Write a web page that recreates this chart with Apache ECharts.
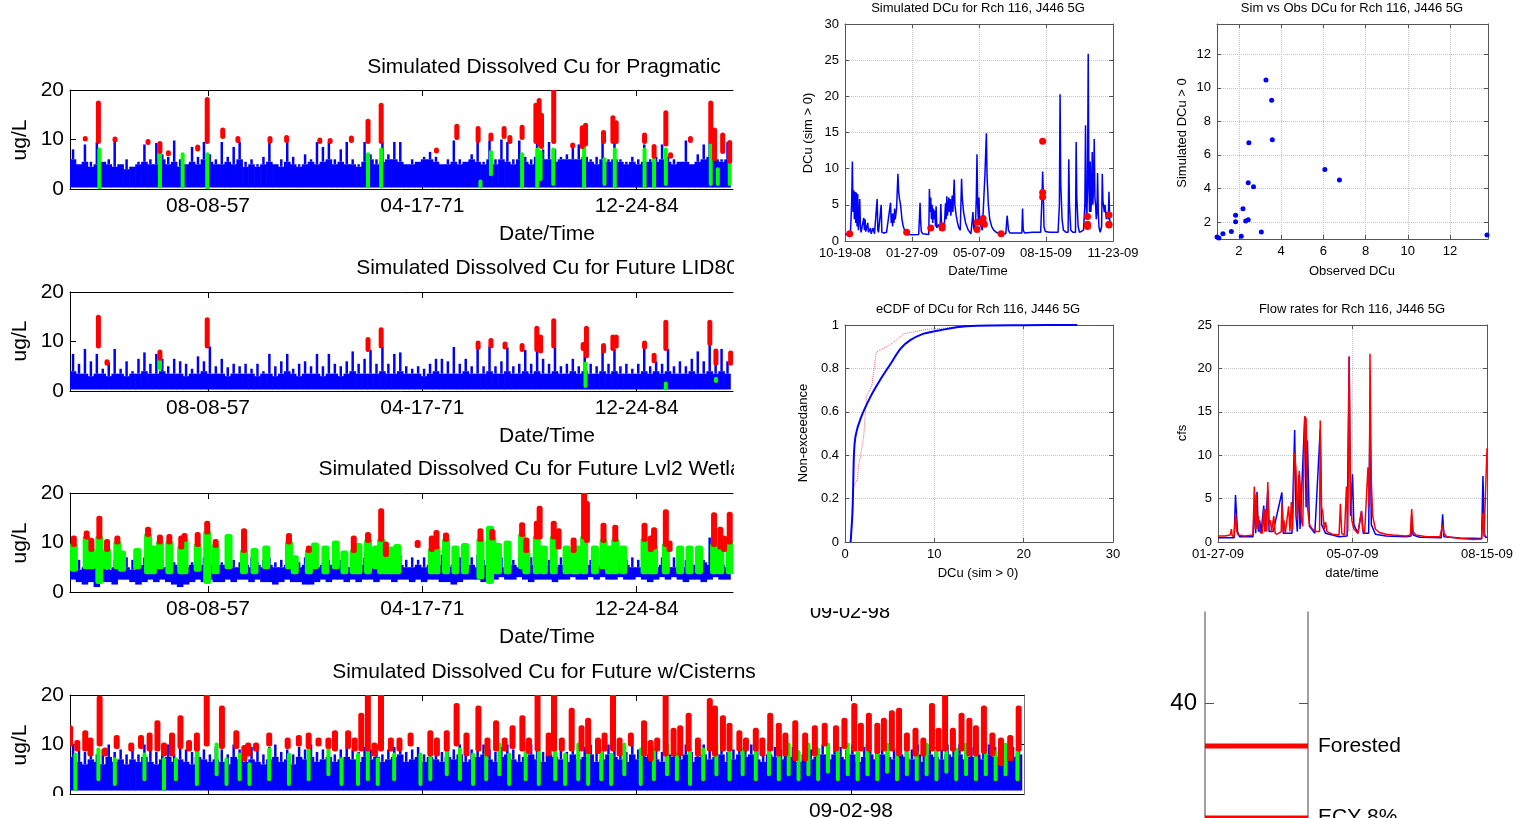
<!DOCTYPE html>
<html>
<head>
<meta charset="utf-8">
<script src="https://cdn.jsdelivr.net/npm/echarts@6/dist/echarts.min.js"></script>
<style>
html, body {margin: 0; padding: 0; background: #fff;}
#chart {width: 1523px; height: 818px;}
</style>
</head>
<body>
<div id="chart"></div>
<script>
// ---- long term runs (x in decimal years) ----
var tsStart = 1948.786, tsEndShort = 1991.13, tsEndLong = 2009.72;
var tsTicks = [1957.600, 1971.290, 1984.978, 1998.668];
var tsTickLabels = ['08-08-57', '04-17-71', '12-24-84', '09-02-98'];
var bandStart = 1948.98, bandStep = 0.38;

var pragBase = [6,5,5.5,4.5,5,5.5,5,4.5,5,4, 4.5,5,5.5,5,5,6,5,5.5,4.5,5, 5.5,5,6,5.5,5,5,5.5,5,6,4.5,
  5,4.5,5,5.5,5,4.5,5.5,5,4.5,5, 5.5,5,5.5,6,5,5.5,5,5,4.5,5.5, 6,5,5.5,6,6,5.5,5,5,5.5,6,
  6,5.5,5,5,5.5,5,5.5,6,5.5,5, 6,5,6,5.5,5,6,5.5,5,6.5,6, 6,5.5,6,6,6,6,6.5,5.5,5,6,
  5.5,6,5.5,5,5.5,5,5.5,5.5,5.5,6, 5.5,5,5.5,5.5,5,5.5,6,6.5,6,5.5, 6];
var pragPeak = [8,5,9,5.5,9.5,5,6,9.8,4.5,6, 4,5.5,9,6,9.3,7,6.5,9.8,6,5, 8.5,6.5,9.5,7,6,9.5,6.5,8.5,9.5,5.5,
  6,5,6.5,9.5,5,6,9.5,6.5,5,7, 6,9.5,8.5,9.5,6,8,9.5,6,5,9.5, 7,6,9.5,7,9.5,9.5,5,6,5.5,6.5,
  7.5,6.5,5,6,9.8,6,5.5,7,9.5,5.5, 9.8,6,10,9.5,6,9.8,6.5,6,9.5,8, 9.5,8,6.5,7,8.8,9,9.5,6,6.5,9.5,
  6,9.5,6,5.5,6.5,6,9,6,6.5,9, 6.5,6,5.5,9.8,5,7,9,9.5,8,6, 9.5];
var pragRed = [[1949.76,10,10.3],[1950.60,9.5,17.5],[1951.66,9.8,10.2],[1953.77,9.3,9.7],[1954.53,7.5,9.3],
  [1955.07,7,7.4],[1956.94,8,8.6],[1957.55,9.5,18.2],[1958.54,10.5,12],[1959.51,9.7,10.3],[1961.56,9.6,10.3],
  [1962.62,9.7,10.5],[1964.74,9.5,10],[1965.40,9.5,9.9],[1966.76,9.7,10.4],[1967.82,9.5,13.8],[1968.66,9.5,17],
  [1972.19,7.6,8],[1973.49,10.3,12.8],[1974.85,9.7,12.3],[1975.67,10,11],[1976.51,10.5,12.3],[1976.88,9.5,10.5],
  [1977.66,10.3,12.6],[1978.54,9.5,17],[1978.75,9,18],[1978.90,8.5,15],[1979.68,9.5,20],[1980.89,8.6,9],
  [1981.50,8.5,12.5],[1981.71,9,13],[1982.86,9.5,11.5],[1983.46,9.5,14.5],[1983.67,9.5,13.5],[1985.48,9.5,11],
  [1986.09,6.5,8.7],[1986.84,9,15.5],[1987.14,6.5,7],[1988.41,9.7,10.3],[1989.71,9.5,17.5],[1989.95,6,12],
  [1990.47,7.5,11],[1990.92,5.5,9.5]];
var pragGreen = [[1950.66,0.3,8],[1954.53,0.5,7],[1955.98,0.5,7],[1957.55,0.3,7],[1967.82,0.5,7],[1968.66,0.5,8],
  [1975.00,0.5,1.5],[1975.67,3,7.5],[1977.66,0.5,7],[1978.63,0.5,8],[1978.84,2,7.5],[1979.65,1,8],[1981.62,0.5,9],
  [1982.92,1,6],[1983.58,0.5,8],[1985.48,0.5,8],[1986.09,0.5,6],[1986.84,1,8],[1989.71,1,9],[1990.16,1,4],[1990.92,1,6]];

var lidBase = [4,3.5,3.5,3,3.5,3.5,3,3.5,3.5,3, 3.5,3.5,4,3.5,3.5,4,3.5,3.5,3.5,3, 3.5,3.5,4,3.5,3.5,3.5,3,3.5,3.5,3.5,
  3.5,3,3.5,3.5,3,3.5,4,3.5,3,3.5, 3.5,3.5,3,3.5,3.5,3,3.5,4,3.5,3.5, 3.5,3.5,4,3.5,3.5,4,3.5,3.5,3.5,3,
  3.5,4,3.5,3.5,3.5,3.5,4,3.5,3.5,3.5, 4,3.5,3.5,4,3.5,3.5,4,3.5,4,3.5, 3.5,4,3.5,3.5,4,3.5,4,3.5,3.5,4,
  3.5,4,3.5,3.5,3.5,3.5,4,3.5,4,3.5, 4,3.5,3.5,3.5,4,3.5,3.5,4,3.5,4, 3.5];
var lidPeak = [7.5,5.5,8.5,6,7.5,4.5,5.8,8.5,4.5,6, 4,6.5,7.8,5.5,7.5,6.5,5,6.5,6,5.5, 4.5,7,6,9,5,6.5,4.8,5.5,5,5.5,
  4.5,5.5,4,7.5,5,6,7.5,4.5,5.5,6, 5,7.5,5,7.5,5.5,5,6,8,5.5,6.5, 8.3,5.5,9,5.5,7.5,7.8,5,4.5,5,4.5,
  5.5,6.5,6.5,6,8.9,5.5,6.5,5,8.7,5, 9,5,6,8.8,5,5.5,8.3,5.5,8.3,6.5, 5.5,9,5,5.5,6.5,5,9,5.5,5,8,
  5.5,8.5,5,5.5,4.5,5.5,8.8,5,6,5.5, 8.5,5,6,5,6.5,8,6,9.5,5.5,8.5, 6];
var lidRed = [[1950.60,9,15],[1951.15,5.5,6],[1954.53,6.5,8],[1957.55,9,14.5],[1967.82,8.3,10.5],[1968.66,9,12.5],
  [1974.85,8.7,9.8],[1975.67,9,10.3],[1976.57,8.8,9.6],[1977.66,8.3,9.3],[1978.60,8.3,12.8],[1978.84,8,11],
  [1979.68,9,14.3],[1981.56,8.5,9.5],[1981.77,7,12.8],[1982.86,8,9.3],[1983.46,8.5,11],[1983.67,9,11],
  [1985.48,8.8,9.8],[1986.09,6,7.3],[1986.84,8.5,14],[1989.65,9.5,14],[1990.04,5.5,8.2],[1990.98,5.5,7.8]];
var lidGreen = [[1954.53,4.5,6.5],[1981.71,1,5.5],[1986.84,0.5,1.5],[1990.04,2,2.5]];

var wetlLow = [2.5,2,1.5,2,1,2,2,1.5,2.5,2.5, 2,1.5,2,2.5,2,2.5,2,1.5,1,1.5, 2,2.5,2,2.5,2,2,2.5,2,2.5,2.5,
  2,2.5,2,2,1.5,2,2.5,2,2,1.5, 1.5,2,2.5,2,2.5,2.5,2,2.5,2,2.5, 2.5,2,2.5,2.5,2,2.5,2.5,2,2.5,2,
  2.5,2.5,2,2,1.5,2,2.5,2.5,2.5,2, 2.5,2.5,3,2.5,2.5,3,2.5,2,2.5,2.5, 2.5,2,2.5,2.5,3,2.5,2.5,3,2.5,3,
  2.5,2.5,3,2.5,2.5,3,2.5,2,2.5,3, 2.5,3,2.5,2,2.5,2.5,2,2.5,3,2.5, 2.5];
var wetlBase = [5,4.5,5,5.5,5,5,4.5,5,5,5, 4.5,5,5.5,5,5.5,5,5,5.5,5,5, 5.5,5,5.5,5.5,5,5.5,5.5,5,5,5.5,
  5,5.5,5,5.5,5,5,5.5,5,5,5.5, 5,5,5.5,5.5,5,5.5,5,5,5.5,5.5, 5,5,5.5,5,5.5,5.5,5,5,5.5,5,
  5.5,6,5.5,5,5.5,5.5,5,5.5,5,5.5, 5,5.5,5,5.5,5.5,5,5,5.5,5,5.5, 5.5,5,5.5,5,5.5,5.5,5,5.5,5,5.5,
  5,5,5.5,5.5,5,5,5.5,5,5,5.5, 5,5,5.5,5,5.5,5,6,5.5,5,5.5, 5];
var wetlPeak = [7,6.5,7,6,6.5,7,6,6.5,6,7, 6.5,6,7,6.5,6,6.5,7,6,6.5,7, 6,6.5,7,8.5,6.5,6,7,6.5,6,6.5,
  7,6,6.5,7,6,6.5,7,6.5,6,7, 6.5,7,6,6.5,7,6.5,6,7,6.5,7, 7.5,6.5,7,6.5,7,7.5,6.5,7,6.5,7,
  7,6.5,7.5,7,6.5,7,6.5,7,7.5,6.5, 7,6.5,7,7.5,6.5,7,6.5,7,6.5,7, 6.5,7,7,6.5,7,6.5,7,6.5,7,6.5,
  7,6.5,7,6.5,7,6.5,7,6.5,7,7, 6.5,7,7,6.5,7,7,6.5,11,6.5,7, 6.5];
var wetlRed = [[1949.03,9.5,11],[1949.85,11,12],[1950.15,8.5,10.5],[1950.66,11,15],[1951.15,8.5,10.3],[1951.81,10,11],
  [1953.77,11.5,12.8],[1954.53,10,11.2],[1955.13,10,11.3],[1955.89,9,11],[1956.10,10.5,11.5],[1956.94,9.5,11.7],
  [1957.55,12,14],[1958.09,9.3,10.3],[1959.90,8.3,12.5],[1962.77,10,11.5],[1964.04,8.3,9],[1966.91,8.3,11],
  [1967.82,10.3,11.7],[1968.66,10.5,16.5],[1968.96,7.5,9.8],[1970.99,9.3,10.1],[1971.89,8.5,11],[1972.19,9,12.1],
  [1972.80,10.5,11.6],[1975.00,10.5,12.5],[1975.76,10.8,12.3],[1977.66,11.5,13.7],[1977.93,8.3,10.6],[1978.60,11,14],
  [1978.78,11,17],[1979.68,11,14],[1979.99,9,12.5],[1980.95,8.3,10.6],[1981.62,11,20],[1981.80,10.3,18],
  [1982.86,10.3,13.6],[1983.61,10.5,13.2],[1985.48,10.5,13.6],[1985.88,8.5,11],[1986.09,9,12.7],[1986.84,9.5,16.3],
  [1987.08,8.5,10],[1989.92,9.5,15.7],[1990.32,9,12.8],[1990.56,8.5,11],[1990.92,10,15.8]];
var wetlGreen = [[1949.03,4.5,9.5],[1949.85,5,11],[1950.15,5,8.5],[1950.66,2,11],[1951.15,5,8.5],[1951.81,5,10],
  [1952.11,4.5,8],[1953.08,5,8.5],[1953.77,4,11.5],[1954.08,4,9],[1954.53,5,10],[1955.13,4,10],[1955.89,4,9],
  [1956.10,4,10.5],[1956.94,4.5,9.5],[1957.55,2,12],[1958.09,4,9.3],[1958.91,5,11.3],[1959.90,4,8.3],[1960.57,4,8.5],
  [1961.32,5,9],[1962.77,5,10],[1963.14,4,7],[1964.04,4,8.3],[1964.43,5,9.6],[1965.10,4,9],[1965.76,5,10],
  [1966.31,4,8],[1966.91,4,8.3],[1967.21,4,9.5],[1967.82,4,10.3],[1968.33,5,9],[1968.66,4,10.5],[1968.96,4,7.5],
  [1969.33,4,8.8],[1969.69,4,9.3],[1971.89,4,8.5],[1972.19,4,9],[1972.80,4,10.5],[1973.40,4,9],[1974.01,4,9.5],
  [1975.00,3,10.5],[1975.61,2,13],[1975.76,4,10.8],[1976.12,4,9.5],[1976.73,4,10],[1977.66,5,11.5],[1977.93,4,8.3],
  [1978.60,4,11],[1979.05,4,9],[1979.68,4,11],[1980.50,4,9],[1980.95,4,8.3],[1981.16,4,9],[1981.62,4,11],
  [1982.31,4,9],[1982.86,5,10.3],[1983.22,4,9],[1983.61,4,10.5],[1984.12,4,9],[1985.48,4,10.5],[1985.88,4,8.5],
  [1986.09,4,9],[1986.84,4,9.5],[1987.75,4,9],[1988.35,4,9],[1988.96,4,9],[1989.92,4,9.5],[1990.32,4,9],[1990.92,4,10]];

var cistBase = [7.5,6.5,6,7,6.5,6,7.5,6.5,7,6, 7,6.5,7.5,6.5,6,7,7.5,6.5,7,6.5, 6,7.5,7,6.5,7,6.5,6,7.5,7,6.5,
  7,6.5,6,7,7.5,6.5,7,6,7.5,7, 7.5,6.5,7,7.5,6.5,7,7.5,7,6.5,7.5, 7,7.5,6.5,7,7.5,8,6.5,7,7.5,6.5,
  7.5,7,6.5,7.5,7,8,6.5,7,7.5,8, 7,6.5,7.5,8,7,6.5,7.5,8,7,6.5, 8,7.5,7,6.5,8,7,7.5,8,6.5,7,
  8,7.5,7,6.5,8,7,7.5,8,7,6.5, 8,7.5,7,8,6.5,7.5,8,7,7.5,8, 6.5,7,8,7.5,8,7,6.5,8,7.5,7,
  8,7.5,6.5,8,7,7.5,8,7,8,7.5, 7,8,6.5,7.5,8,7,8,7.5,7,8, 7.5,7,8,6.5,8,7.5,7,8,7.5,8,
  7,7.5,8,7,8,7.5,7,8,7.5,8];
var cistPeak = [10,9,8.5,9.5,8,9,10,8.5,9,8, 9.5,8,10,9,8.5,9,10,8,9.5,9, 8.5,10,9,8,9.5,9,8,10,9,8.5,
  9.5,9,8,9.5,10,8.5,9,8,9.5,9, 10,8.5,9,9.5,8,9,10,9,8.5,9.5, 9,10,8,9,9.5,10,8.5,9,9.5,8,
  10,9,8.5,9.5,9,10,8.5,9,9.5,10, 9,8.5,9.5,10,9,8,9.5,10,9,8.5, 10,9.5,9,8.5,10,9,9.5,10,8.5,9,
  10,9.5,9,8.5,10,9,9.5,10,9,8.5, 10,9.5,9,10,8.5,9.5,10,9,9.5,10, 8.5,9,10,9.5,10,9,8.5,10,9.5,9,
  10,9.5,8.5,10,9,9.5,10,9,10,9.5, 9,10,8.5,9.5,10,9,10,9.5,9,10, 9.5,9,10,8.5,10,9.5,9,10,9.5,10,
  9,9.5,10,9,10,9.5,9,10,9.5,10];
var cistRed = [[1948.79,10,13.5],[1949.25,9,10.5],[1949.76,9,12.5],[1950.09,8,11],[1950.68,10,19.5],[1951.02,8,9],
  [1951.77,9.5,11.5],[1952.70,9,10],[1953.32,9.5,11.5],[1953.87,9,12],[1954.37,9,14.5],[1954.79,8,10],[1955.30,8,12],
  [1955.84,9.5,15.5],[1956.39,9,10.5],[1956.89,9,12],[1957.52,10,20],[1958.49,9.5,17.5],[1959.41,9.5,12.5],
  [1959.92,7,9.5],[1960.17,8,10],[1960.67,9,10],[1961.51,10,12],[1962.69,9.5,11],[1963.40,10,11.5],[1964.03,9.5,12],
  [1964.66,10,11],[1965.29,9.5,11],[1965.71,9,12.5],[1966.55,9.5,12.5],[1966.97,9,11],[1967.39,9,16],[1967.81,9,20],
  [1968.23,8,10],[1968.65,9,20],[1969.28,9,11],[1969.83,9,11],[1970.54,10,12],[1971.80,8,12.5],[1972.22,8,11],
  [1972.85,9,12.5],[1973.48,10,18],[1974.11,8,12],[1974.87,9,17.5],[1975.45,8,11],[1976.00,9,14.5],[1976.55,9,11],
  [1977.05,9.5,13.5],[1977.68,9,15.5],[1978.10,8.5,11],[1978.65,9,20],[1979.36,8,12],[1979.70,9,20],[1980.20,9,11],
  [1980.83,9,17],[1981.46,9,13.5],[1981.88,8.5,15],[1982.51,8.5,11],[1982.93,9,12],[1983.47,9,20],[1983.89,8,11],
  [1984.61,10,12],[1985.45,8,14.5],[1985.87,7,10.5],[1986.29,9,11],[1986.83,8,20],[1987.34,8,13],[1987.76,8,13.5],
  [1988.30,9,16],[1988.89,8,11],[1989.65,9,19],[1989.98,8,17.5],[1990.49,9,15.5],[1990.91,9,14],[1991.54,9,12.5],
  [1991.96,9,11],[1992.59,9,13],[1993.01,8,11],[1993.51,9,16],[1994.06,8,14],[1994.48,8,12],[1995.11,7,14.5],
  [1995.74,7,12],[1996.36,8,13.5],[1996.99,10,14],[1997.71,9,13.5],[1998.25,9.5,15],[1998.88,9,18],[1999.30,9,14],
  [1999.81,9,16],[2000.35,8.5,14],[2000.77,9,15],[2001.28,9,16.5],[2001.74,8,17],[2002.24,9,12],[2002.79,8,13],
  [2003.29,8,11],[2003.84,9,18],[2004.26,9,13],[2004.68,9,20],[2005.18,9,13],[2005.73,9,16],[2006.23,8,15],
  [2006.65,8,13.5],[2007.16,8.5,17.5],[2007.70,8,12],[2008.25,6,11],[2008.84,7,11.5],[2009.38,9,17.5]];
var cistGreen = [[1949.13,1,8],[1950.60,3,9],[1951.65,2,7],[1953.54,3,8],[1954.79,1,7],[1955.55,3,7],[1956.89,2,9],
  [1958.15,4,10],[1958.78,2,7],[1959.62,3,8],[1960.25,2,6],[1961.51,3,9],[1962.77,2,8],[1964.03,3,9],[1965.29,4,9],
  [1966.13,2,7],[1967.18,2,8],[1967.81,3,9],[1968.44,2,7],[1969.49,3,8],[1971.17,2,8],[1971.80,3,10],[1972.85,4,9],
  [1973.69,3,9],[1974.53,2,8],[1975.37,3,9],[1976.21,4,10],[1976.84,2,8],[1977.89,3,10],[1978.73,2,9],[1979.78,3,9],
  [1980.41,2,8],[1981.25,3,10],[1981.88,2,9],[1982.72,3,9],[1983.35,2,8],[1984.19,4,10],[1985.24,2,9],[1986.08,3,9],
  [1986.92,4,10],[1987.55,3,8],[1988.39,2,9],[1989.23,3,9],[1990.07,4,10],[1990.91,3,9],[1991.75,4,9],[1992.59,3,9],
  [1993.43,4,10],[1994.06,3,9],[1994.69,4,10],[1995.32,3,8.5],[1995.95,4,10],[1996.57,3,9],[1997.20,4.5,10],
  [1997.83,3,9],[1998.46,4,10],[1999.09,3,8.5],[1999.72,4,10],[2000.35,3,9],[2000.98,4.5,10],[2001.61,3,9],
  [2002.24,4,10],[2002.87,3,8.5],[2003.50,4,10],[2004.13,3,9],[2004.76,4.5,10],[2005.39,3,9],[2006.02,4,10],
  [2006.65,3,9],[2007.28,4,10],[2007.91,3,8.5],[2008.54,4,10],[2009.30,3,9]];

// ---- Rch 116 calibration (x in days from the first tick) ----
var dcuTickLabels = ['10-19-08', '01-27-09', '05-07-09', '08-15-09', '11-23-09'];
var dcuSim = [[0,0.9],[5,0.9],[8,1.0],[9,3],[10,5.5],[11,11],[12,4],[13,7],[14,3],[15,6.8],[16,2.5],[17,6.7],[18,2],
  [19,6.5],[20,1.5],[21,3.5],[22,5.8],[23,2],[24,1.2],[26,1.0],[28,3.2],[29,1.5],[30,3],[31,1.3],[34,2.5],[35,1.2],
  [38,1.8],[39,1.0],[42,1.8],[44,1.0],[48,5.8],[49,1.5],[50,1.2],[52,1.2],[54,5],[55,1.2],[58,1.1],[62,1.2],[68,5.3],
  [69,2.5],[70,3.8],[71,2],[72,3.8],[73,2.5],[74,4.5],[75,3],[77,4.5],[79,9.3],[80,7],[81,6],[83,5],[85,3],[87,2],
  [90,1.2],[93,0.9],[100,0.85],[110,0.9],[112,5.3],[113,2.5],[114,1.3],[116,1.0],[125,0.9],[126,7.2],[127,4],[128,6],
  [129,3],[130,5],[131,2.5],[132,4.5],[133,3],[134,4.2],[135,2],[136,4.8],[137,1.8],[140,2.3],[142,1.5],[143,5.1],
  [144,2.5],[146,1.8],[148,1.5],[150,5.2],[151,3],[152,6.2],[153,3.5],[155,6],[156,4],[157,5.8],[158,3.5],[160,6.3],
  [161,4],[163,8.5],[164,5],[166,3.5],[168,2.5],[170,1.8],[172,1.5],[174,8.6],[175,6],[177,4],[180,2.5],[184,1.5],
  [188,1],[190,1.0],[191,4],[192,2],[193,1.5],[195,3],[196,6],[197,12],[198,5],[199,3],[200,6],[201,2.5],[203,2],
  [205,1.5],[207,1.5],[209,9.5],[211,14.9],[212,9],[214,5],[216,3],[219,2],[222,1.5],[226,1.2],[230,1.0],[240,1.0],
  [242,3.5],[244,1.5],[246,1.1],[255,1.1],[264,1.1],[265,4.5],[266,1.5],[268,1.1],[280,1.2],[292,1.2],[294,6],
  [295,9.6],[296,6.5],[297,2],[299,1.3],[305,1.2],[318,1.2],[320,5],[321,20.3],[322,8],[324,3],[326,1.5],[330,1.2],
  [333,1.2],[334,11.3],[335,5],[337,1.5],[340,1.2],[344,1.2],[345,13.7],[346,6],[348,2],[350,1.2],[356,1.5],[358,5],
  [359,16],[360,5],[361,3],[362,8],[363,25.9],[364,8],[365,4],[366,11],[367,4],[368,6],[369,12.3],[370,5],[371,8],
  [372,14.1],[373,6],[374,5],[375,3],[376,4],[377,9.4],[378,4],[379,2],[380,1.5],[381,1.2],[383,2],[384,9.3],
  [385,5.5],[386,5.5],[387,4],[388,5],[389,5],[390,3],[391,4],[392,3.5],[393,3],[394,6.8],[395,3],[396,2.5]];
var dcuObs = [[7,1.0],[92,1.2],[128,1.8],[145,1.8],[145,2.1],[197,1.6],[197,2.6],[206,2.6],[206,3.1],[208,2.3],
  [233,1.0],[295,13.8],[295,6.7],[295,6.1],[362,3.4],[362,2.3],[362,2.0],[394,3.6],[394,2.3],[394,2.2]];

var pairTicks = [2, 4, 6, 8, 10, 12];
var simVsObs = [[0.96,1.11],[1.05,1.05],[1.24,1.31],[1.64,1.43],[1.84,2.41],[1.84,2.02],[2.11,1.15],[2.19,2.79],
  [2.32,2.06],[2.44,2.14],[2.44,4.34],[2.47,6.72],[2.69,4.11],[3.06,1.41],[3.28,10.46],[3.55,9.26],[3.58,6.90],
  [6.07,5.13],[6.76,4.50],[13.75,1.23]];

var cdfSim = [[0.63,0],[0.85,0.15],[1.0,0.4],[1.19,0.49],[1.75,0.57],[2.86,0.67],[3.98,0.75],[5.09,0.82],[6.2,0.89],
  [7.3,0.93],[8.8,0.96],[9.9,0.97],[12.5,0.99],[14.8,0.997],[20,0.999],[26,1]];
var cdfObs = [[0.63,0],[0.85,0.2],[0.9,0.25],[1.4,0.29],[1.5,0.35],[1.75,0.40],[2.1,0.49],[2.4,0.67],[3.0,0.72],
  [3.5,0.875],[5.1,0.91],[6.6,0.96],[9.2,0.98],[12.5,0.99],[13.3,1]];

var flowTickLabels = ['01-27-09', '05-07-09', '08-15-09'];
var flowSim = [[0,0.5],[12,0.5],[13,5.4],[14,5.3],[14.5,1.2],[16,0.6],[26,0.6],[27,4],[28,1],[29,5.8],[30,1.2],[31,2.5],
  [32,1],[34,4.2],[35,1.2],[37,5.9],[38,1.2],[41,1.2],[47.5,5.7],[48.5,1],[52,1],[55,1],[57,12.9],[58,3],[59,1.2],
  [60,7.7],[61,1.5],[64.5,14.4],[65.5,4],[66.5,11.7],[68,1.8],[72,1],[76,13],[77,2],[80,1],[90,0.6],[96,0.7],
  [97.5,21.3],[98.5,3],[100,7.8],[101,2],[104,1],[106.7,3.5],[108,1],[112,1],[113,14.7],[114,2],[117,0.9],[125,0.7],
  [140,0.6],[143.5,0.7],[144,3],[145,0.8],[150,0.55],[166,0.5],[167,3.2],[168,0.6],[180,0.45],[196,0.4],[197,7.6],
  [198,1],[199,0.5],[200,0.6]];
var flowObs = [[0,0.7],[5,0.7],[9,0.8],[10,1.5],[10.5,0.7],[12,0.7],[13,3.3],[14,1.2],[15,0.8],[20,0.7],[26,0.8],
  [27,6.4],[27.8,1.5],[28.5,5.5],[29,1.5],[30,3],[31,1.2],[33,1],[34,3.8],[34.8,1.2],[35.5,3.8],[36.3,1.2],[37,6.9],
  [38,2],[39,2.5],[39.8,1.2],[41.5,3],[42.5,1],[44,0.9],[47,1.2],[47.5,4.5],[48.5,1.2],[49,2.5],[50,1],[52.5,4.1],
  [53.5,1.2],[54.5,4.6],[55.5,1.5],[57,10.3],[58,8.3],[59,2.5],[60.4,8.2],[61,6.8],[62,2.5],[63,1.8],[64.5,14.5],
  [65.5,14.2],[66.5,4],[68,2],[70,1.5],[73,1.2],[75.5,1.2],[76,14],[77,4],[78,3.3],[79,1.5],[80,2.3],[81,1.2],[85,0.9],
  [90,0.8],[91,4.4],[92,1],[94,0.8],[95.5,6.4],[96.5,1.2],[97.5,21.4],[98.5,6],[99.5,2.5],[101,1.5],[104,1],
  [106.7,3.6],[107.5,1.5],[109,1],[111.5,8.6],[112.5,4],[113,21.7],[114,7],[115,3],[117,1.5],[120,1.1],[125,0.9],
  [130,0.8],[140,0.7],[143,0.8],[144,3.8],[145,1.2],[147,0.8],[155,0.6],[165,0.6],[167,2],[168,1],[170,0.6],[180,0.4],
  [190,0.3],[196,0.35],[197,3.3],[197.8,0.6],[199,0.5],[200,10.8]];

// ---- criteria levels ----
var levelTicks = [40];
var levelNames = ['Forested', 'ECY 8%'];
var levelValues = [37.17, 32.5];

var BLUE = '#0000ff', RED = '#ff0000', GREEN = '#00ff00';
var FONT = '"Liberation Sans", Arial, Helvetica, sans-serif';

var grids = [], xAxes = [], yAxes = [], series = [], graphics = [];

function txt(str, x, y, size, rot, z) {
    graphics.push({type: 'text', x: x, y: y, rotation: rot || 0, z: z || 50,
        style: {text: str, font: size + 'px ' + FONT, fill: '#000', textAlign: 'center', textVerticalAlign: 'middle',
            align: 'center', verticalAlign: 'middle'}});
}
function cover(x, y, w, h) {
    graphics.push({type: 'rect', z: 100, shape: {x: x, y: y, width: w, height: h}, style: {fill: '#fff'}});
}
function tsLabel(v) {
    for (var i = 0; i < tsTicks.length; i++) {
        if (Math.abs(v - tsTicks[i]) < 0.01) return tsTickLabels[i];
    }
    return '';
}
function makeBand(base, peak, floor) {
    return base.map(function (b, i) {
        var lo = Array.isArray(floor) ? floor[i] : floor;
        return [bandStart + i * bandStep, lo, b, peak[i]];
    });
}
function renderBand(params, api) {
    var x = api.value(0);
    var pLo = api.coord([x, api.value(1)]);
    var pMid = api.coord([x, api.value(2)]);
    var pHi = api.coord([x, api.value(3)]);
    var w = api.size([bandStep, 0])[0] + 0.6;
    return {type: 'group', children: [
        {type: 'rect', shape: {x: pLo[0] - w / 2, y: pMid[1], width: w, height: Math.max(0, pLo[1] - pMid[1])}, style: {fill: BLUE}},
        {type: 'rect', shape: {x: pHi[0] - 1.25, y: pHi[1], width: 2.5, height: Math.max(0, pMid[1] - pHi[1])}, style: {fill: BLUE}}
    ]};
}
function renderEvent(color, w) {
    return function (params, api) {
        var x = api.value(0);
        var pLo = api.coord([x, api.value(1)]);
        var pHi = api.coord([x, api.value(2)]);
        return {type: 'rect', shape: {x: pLo[0] - w / 2, y: pHi[1] - 2, width: w, height: pLo[1] - pHi[1] + 4, r: Math.min(w / 2, 2.5)},
            style: {fill: color}};
    };
}

function tsPanel(top, width, xMax, band, red, green, redW, greenW, labelVals, rightEdge) {
    var g = grids.length;
    grids.push({left: 70, top: top, width: width, height: 99, containLabel: false, outerBoundsMode: 'none'});
    var black = {color: '#000', width: 1};
    var xi = xAxes.length;
    xAxes.push({gridIndex: g, type: 'value', position: 'bottom', min: tsStart, max: xMax,
        axisLine: {show: true, onZero: false, lineStyle: black},
        axisTick: {show: true, inside: true, length: 6, customValues: tsTicks, lineStyle: black},
        axisLabel: {show: true, customValues: labelVals, formatter: tsLabel, fontSize: 21, fontFamily: FONT, color: '#000', margin: 7},
        splitLine: {show: false}});
    xAxes.push({gridIndex: g, type: 'value', position: 'top', min: tsStart, max: xMax,
        axisLine: {show: true, onZero: false, lineStyle: black},
        axisTick: {show: true, inside: true, length: 6, customValues: tsTicks, lineStyle: black},
        axisLabel: {show: false}, splitLine: {show: false}});
    var yi = yAxes.length;
    yAxes.push({gridIndex: g, type: 'value', position: 'left', min: 0, max: 20, interval: 10,
        axisLine: {show: true, lineStyle: black},
        axisTick: {show: true, inside: true, length: 6, lineStyle: black},
        axisLabel: {fontSize: 21, fontFamily: FONT, color: '#000', margin: 6},
        splitLine: {show: false}});
    if (rightEdge) {
        yAxes.push({gridIndex: g, type: 'value', position: 'right', min: 0, max: 20, interval: 10,
            axisLine: {show: true, lineStyle: {color: '#777', width: 1}},
            axisTick: {show: true, inside: true, length: 6, lineStyle: black},
            axisLabel: {show: false}, splitLine: {show: false}});
    }
    series.push({type: 'custom', xAxisIndex: xi, yAxisIndex: yi, renderItem: renderBand, data: band, clip: true,
        encode: {x: 0, y: [1, 2, 3]}, silent: true, z: 2});
    series.push({type: 'custom', xAxisIndex: xi, yAxisIndex: yi, renderItem: renderEvent(GREEN, greenW), data: green,
        clip: true, encode: {x: 0, y: [1, 2]}, silent: true, z: 3});
    series.push({type: 'custom', xAxisIndex: xi, yAxisIndex: yi, renderItem: renderEvent(RED, redW), data: red,
        clip: true, encode: {x: 0, y: [1, 2]}, silent: true, z: 4});
}

tsPanel(90, 663, tsEndShort, makeBand(pragBase, pragPeak, 0.3), pragRed, pragGreen, 5, 4, tsTicks, false);
tsPanel(292, 663, tsEndShort, makeBand(lidBase, lidPeak, 0.3), lidRed, lidGreen, 5, 4, tsTicks, false);
tsPanel(493, 663, tsEndShort, makeBand(wetlBase, wetlPeak, wetlLow), wetlRed, wetlGreen, 6, 8, tsTicks, false);
tsPanel(695, 954, tsEndLong, makeBand(cistBase, cistPeak, 0.7), cistRed, cistGreen, 6, 4, [tsTicks[3]], true);

// ---- small calibration panels ----
var sideLine = {show: true, onZero: false, lineStyle: {color: '#555', width: 1}};
var sideTick = {show: true, inside: true, length: 4, lineStyle: {color: '#555'}};
var sideLabel = {fontSize: 13, fontFamily: FONT, color: '#000', margin: 6};
var sideSplit = {show: true, lineStyle: {color: '#c4c4c4', type: 'dotted', width: 1}};

function sidePanel(left, top, width, height, xc, yc) {
    var g = grids.length;
    grids.push({left: left, top: top, width: width, height: height, containLabel: false, outerBoundsMode: 'none'});
    var xi = xAxes.length;
    xAxes.push(Object.assign({gridIndex: g, type: 'value', position: 'bottom', axisLine: sideLine,
        axisTick: Object.assign({}, sideTick, {customValues: xc.custom}),
        axisLabel: Object.assign({}, sideLabel, {customValues: xc.custom, formatter: xc.fmt}),
        splitLine: sideSplit}, xc.range));
    xAxes.push(Object.assign({gridIndex: g, type: 'value', position: 'top', axisLine: sideLine,
        axisTick: Object.assign({}, sideTick, {customValues: xc.custom}), axisLabel: {show: false},
        splitLine: {show: false}}, xc.range));
    var yi = yAxes.length;
    yAxes.push(Object.assign({gridIndex: g, type: 'value', position: 'left', axisLine: sideLine,
        axisTick: Object.assign({}, sideTick, {customValues: yc.custom}),
        axisLabel: Object.assign({}, sideLabel, {customValues: yc.custom}),
        splitLine: sideSplit}, yc.range));
    yAxes.push(Object.assign({gridIndex: g, type: 'value', position: 'right', axisLine: sideLine,
        axisTick: Object.assign({}, sideTick, {customValues: yc.custom}), axisLabel: {show: false},
        splitLine: {show: false}}, yc.range));
    return [xi, yi];
}

var a = sidePanel(845, 24, 268, 217,
    {range: {min: 0, max: 400, interval: 100}, fmt: function (v) { return dcuTickLabels[Math.round(v / 100)]; }},
    {range: {min: 0, max: 30, interval: 5}});
series.push({type: 'line', xAxisIndex: a[0], yAxisIndex: a[1], data: dcuSim, showSymbol: false,
    lineStyle: {color: BLUE, width: 1.5}, itemStyle: {color: BLUE}, z: 3});
series.push({type: 'scatter', xAxisIndex: a[0], yAxisIndex: a[1], data: dcuObs, symbolSize: 7,
    itemStyle: {color: RED, opacity: 1}, z: 4});

var b = sidePanel(1217, 24, 271, 215,
    {range: {min: 0.96, max: 13.8}, custom: pairTicks},
    {range: {min: 0.99, max: 13.8}, custom: pairTicks});
series.push({type: 'scatter', xAxisIndex: b[0], yAxisIndex: b[1], data: simVsObs, symbolSize: 5,
    itemStyle: {color: BLUE, opacity: 1}, z: 3});

var c = sidePanel(845, 325, 268, 217,
    {range: {min: 0, max: 30, interval: 10}},
    {range: {min: 0, max: 1, interval: 0.2}});
series.push({type: 'line', xAxisIndex: c[0], yAxisIndex: c[1], data: cdfObs, showSymbol: false,
    lineStyle: {color: '#ff6060', width: 1, type: 'dotted'}, itemStyle: {color: '#ff6060'}, z: 3});
series.push({type: 'line', xAxisIndex: c[0], yAxisIndex: c[1], data: cdfSim, showSymbol: false, smooth: 0.3,
    lineStyle: {color: BLUE, width: 2}, itemStyle: {color: BLUE}, z: 4});

var d = sidePanel(1218, 325, 269, 217,
    {range: {min: 0, max: 200, interval: 100}, fmt: function (v) { return flowTickLabels[Math.round(v / 100)]; }},
    {range: {min: 0, max: 25, interval: 5}});
series.push({type: 'line', xAxisIndex: d[0], yAxisIndex: d[1], data: flowSim, showSymbol: false,
    lineStyle: {color: BLUE, width: 1.5}, itemStyle: {color: BLUE}, z: 3});
series.push({type: 'line', xAxisIndex: d[0], yAxisIndex: d[1], data: flowObs, showSymbol: false,
    lineStyle: {color: RED, width: 1.5}, itemStyle: {color: RED}, z: 4});

// ---- criteria strip (bottom right) ----
var eg = grids.length;
grids.push({left: 1205, top: 612, width: 103, height: 243, containLabel: false, outerBoundsMode: 'none'});
var exi = xAxes.length;
xAxes.push({gridIndex: eg, type: 'value', min: 0, max: 1, show: false});
var eyi = yAxes.length;
var grayLine = {show: true, lineStyle: {color: '#808080', width: 1.5}};
var grayTick = {show: true, inside: true, length: 9, customValues: levelTicks, lineStyle: {color: '#555', width: 1}};
yAxes.push({gridIndex: eg, type: 'value', position: 'left', min: 30, max: 46, axisLine: grayLine, axisTick: grayTick,
    axisLabel: {customValues: levelTicks, fontSize: 24, fontFamily: FONT, color: '#000', margin: 8}, splitLine: {show: false}});
yAxes.push({gridIndex: eg, type: 'value', position: 'right', min: 30, max: 46, axisLine: grayLine, axisTick: grayTick,
    axisLabel: {show: false}, splitLine: {show: false}});
levelNames.forEach(function (name, i) {
    series.push({type: 'line', name: name, xAxisIndex: exi, yAxisIndex: eyi, showSymbol: false,
        data: [[0, levelValues[i]], [1, levelValues[i]]],
        lineStyle: {color: RED, width: i === 0 ? 5 : 3}, itemStyle: {color: RED},
        endLabel: {show: true, formatter: '{a}', distance: 10, fontSize: 21, fontFamily: FONT, color: '#000'}});
});

// ---- texts ----
txt('Simulated Dissolved Cu for Pragmatic', 544, 67, 21);
txt('Simulated Dissolved Cu for Future LID80', 547, 268, 21);
txt('Simulated Dissolved Cu for Future Lvl2 Wetlands', 547, 469, 21);
txt('Simulated Dissolved Cu for Future w/Cisterns', 544, 672, 21);
[140, 341, 543, 745].forEach(function (y) { txt('ug/L', 20, y, 21, Math.PI / 2); });
[234, 436, 637].forEach(function (y) { txt('Date/Time', 547, y, 21); });
txt('09-02-98', 850, 612, 20, 0, 99);

txt('Simulated DCu for Rch 116, J446 5G', 978, 8, 13);
txt('Sim vs Obs DCu for Rch 116, J446 5G', 1352, 8, 13);
txt('eCDF of DCu for Rch 116, J446 5G', 978, 309, 13);
txt('Flow rates for Rch 116, J446 5G', 1352, 309, 13);
txt('DCu (sim > 0)', 808, 133, 13, Math.PI / 2);
txt('Date/Time', 978, 271, 13);
txt('Simulated DCu > 0', 1182, 133, 13, Math.PI / 2);
txt('Observed DCu', 1352, 271, 13);
txt('Non-exceedance', 803, 433, 13, Math.PI / 2);
txt('DCu (sim > 0)', 978, 573, 13);
txt('cfs', 1182, 433, 13, Math.PI / 2);
txt('date/time', 1352, 573, 13);

// cropped edges of the pasted figures
cover(734, 254, 58, 30);
cover(734, 454, 58, 32);
cover(795, 590, 110, 18);
cover(0, 796, 790, 22);

var chart = echarts.init(document.getElementById('chart'), null, {renderer: 'canvas'});
chart.setOption({
    animation: false,
    backgroundColor: '#fff',
    grid: grids,
    xAxis: xAxes,
    yAxis: yAxes,
    series: series,
    graphic: {elements: graphics}
});
</script>
</body>
</html>
